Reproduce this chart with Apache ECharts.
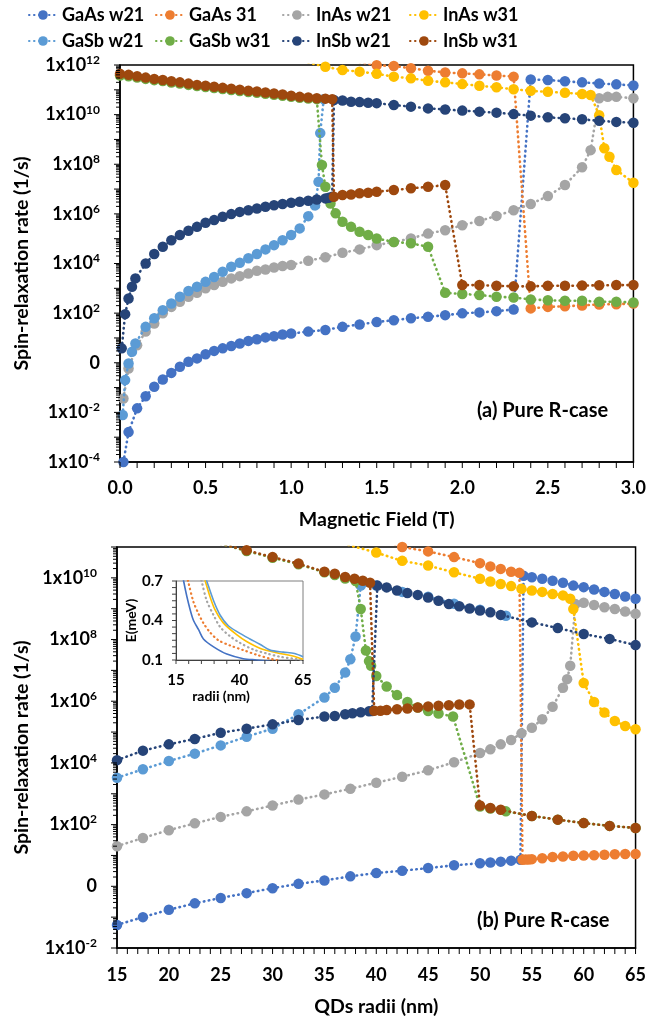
<!DOCTYPE html>
<html>
<head>
<meta charset="utf-8">
<script src="https://cdn.jsdelivr.net/npm/echarts@6/dist/echarts.min.js"></script>
<style>
  html, body { margin: 0; padding: 0; background: #fff; }
  #chart { width: 649px; height: 1026px; }
</style>
</head>
<body>
<div id="chart"></div>
<script>
// Series names, in legend order
const names = ['GaAs w21', 'GaAs 31', 'InAs w21', 'InAs w31', 'GaSb w21', 'GaSb w31', 'InSb w21', 'InSb w31'];
const colors = ['#4472C4', '#ED7D31', '#A5A5A5', '#FFC000', '#5B9BD5', '#70AD47', '#264478', '#9E480E'];

// ---- (a) spin-relaxation rate (1/s) vs magnetic field (T) ----
const fieldGaAsW21 = [[0.02,1.0e-4],[0.05,1.6e-3],[0.1,1.45e-2],[0.15,4.5e-2],[0.2,1.07e-1],[0.25,2.1e-1],[0.3,3.9e-1],[0.35,6.9e-1],[0.4,1.1],[0.45,1.5],[0.5,2.2],[0.55,3.0],[0.6,3.8],[0.65,4.7],[0.7,6.0],[0.75,7.6],[0.8,8.9],[0.85,10.5],[0.9,11.7],[0.95,13.8],[1.0,15],[1.1,18],[1.2,21],[1.3,28],[1.4,35],[1.5,44],[1.6,52],[1.7,62],[1.8,71],[1.9,83],[2.0,98],[2.1,107],[2.2,120],[2.3,141],[2.4,2.6e11],[2.5,2.5e11],[2.6,2.2e11],[2.7,2.0e11],[2.8,1.8e11],[2.9,1.66e11],[3.0,1.5e11]];
const fieldGaAs31 = [[1.4,1.3e12],[1.5,9.8e11],[1.6,9.1e11],[1.7,7.4e11],[1.8,5.9e11],[1.9,5.0e11],[2.0,4.6e11],[2.1,4.2e11],[2.2,3.8e11],[2.3,3.4e11],[2.4,155],[2.5,178],[2.6,190],[2.7,204],[2.8,224],[2.9,229],[3.0,245]];
const fieldInAsW21 = [[0.02,3.6e-2],[0.05,5.9e-1],[0.1,5.1],[0.15,18],[0.2,38],[0.25,98],[0.3,178],[0.35,288],[0.4,457],[0.45,661],[0.5,1000],[0.55,1350],[0.6,1820],[0.65,2510],[0.7,3090],[0.75,3980],[0.8,5130],[0.85,5750],[0.9,6920],[0.95,7940],[1.0,8710],[1.1,1.29e4],[1.2,1.78e4],[1.3,2.7e4],[1.4,3.7e4],[1.5,5.5e4],[1.6,7.4e4],[1.7,1.02e5],[1.8,1.6e5],[1.9,2.2e5],[2.0,3.5e5],[2.1,5.2e5],[2.2,8.3e5],[2.3,1.4e6],[2.4,2.5e6],[2.5,5.2e6],[2.6,1.45e7],[2.7,7.6e7],[2.75,3.7e8],[2.8,4.6e10],[2.85,5.2e10],[2.9,5.2e10],[3.0,4.6e10]];
const fieldInAsW31 = [[1.1,1.26e12],[1.2,8.5e11],[1.3,6.3e11],[1.4,5.4e11],[1.5,4.4e11],[1.6,3.4e11],[1.7,2.9e11],[1.8,2.3e11],[1.9,2.0e11],[2.0,1.7e11],[2.1,1.45e11],[2.2,1.26e11],[2.3,1.05e11],[2.4,9.1e10],[2.5,8.3e10],[2.6,7.6e10],[2.7,6.8e10],[2.75,6.2e10],[2.8,9.5e9],[2.83,4.4e8],[2.86,2.0e8],[2.9,5.9e7],[3.0,1.8e7]];
const fieldGaSbW21 = [[0.016,7.8e-3],[0.03,2.0e-1],[0.05,0.93],[0.07,2.75],[0.09,6.0],[0.15,28],[0.2,62],[0.25,132],[0.3,245],[0.35,457],[0.4,776],[0.45,1150],[0.5,1820],[0.55,2880],[0.6,4680],[0.65,7410],[0.7,1.07e4],[0.75,1.62e4],[0.8,2.4e4],[0.85,3.7e4],[0.9,5.5e4],[0.95,8.7e4],[1.0,1.41e5],[1.05,2.6e5],[1.1,8.1e5],[1.14,2.2e6],[1.16,1.95e7],[1.17,1.8e9],[1.19,4.2e10]];
const fieldGaSbW31 = [[0,3.8e11],[0.05,3.5e11],[0.1,3.1e11],[0.15,2.75e11],[0.2,2.45e11],[0.25,2.24e11],[0.3,1.95e11],[0.35,1.78e11],[0.4,1.58e11],[0.45,1.41e11],[0.5,1.29e11],[0.55,1.17e11],[0.6,1.07e11],[0.65,9.8e10],[0.7,8.9e10],[0.75,8.1e10],[0.8,7.6e10],[0.85,6.9e10],[0.9,6.3e10],[0.95,5.8e10],[1.0,5.2e10],[1.05,4.8e10],[1.1,4.5e10],[1.15,4.2e10],[1.18,9.3e7],[1.2,1.23e7],[1.23,2.6e6],[1.26,1.05e6],[1.3,4.8e5],[1.35,3.0e5],[1.4,1.9e5],[1.45,1.41e5],[1.5,1.02e5],[1.6,7.4e4],[1.7,6.5e4],[1.8,4.7e4],[1.9,660],[2.0,590],[2.1,540],[2.2,457],[2.3,427],[2.4,355],[2.5,331],[2.6,316],[2.7,316],[2.8,288],[2.9,288],[3.0,269]];
const fieldInSbW21 = [[0.01,3.8],[0.03,91],[0.05,389],[0.07,1150],[0.09,2510],[0.15,1.0e4],[0.2,2.4e4],[0.25,4.7e4],[0.3,8.7e4],[0.35,1.41e5],[0.4,2.1e5],[0.45,3.0e5],[0.5,4.4e5],[0.55,5.6e5],[0.6,7.6e5],[0.65,9.8e5],[0.7,1.2e6],[0.75,1.41e6],[0.8,1.66e6],[0.85,1.95e6],[0.9,2.24e6],[0.95,2.5e6],[1.0,2.8e6],[1.05,3.1e6],[1.1,3.4e6],[1.15,3.8e6],[1.2,4.2e6],[1.22,4.5e6],[1.24,4.9e6],[1.25,3.9e10],[1.3,3.7e10],[1.35,3.3e10],[1.4,3.2e10],[1.45,3.0e10],[1.5,2.9e10],[1.6,2.45e10],[1.7,2.1e10],[1.8,1.78e10],[1.9,1.62e10],[2.0,1.45e10],[2.1,1.32e10],[2.2,1.2e10],[2.3,1.05e10],[2.4,9.1e9],[2.5,7.8e9],[2.6,7.1e9],[2.7,6.5e9],[2.8,5.6e9],[2.9,5.1e9],[3.0,4.7e9]];
const fieldInSbW31 = [[0,4.4e11],[0.05,4.0e11],[0.1,3.5e11],[0.15,3.1e11],[0.2,2.75e11],[0.25,2.5e11],[0.3,2.2e11],[0.35,2.0e11],[0.4,1.78e11],[0.45,1.58e11],[0.5,1.45e11],[0.55,1.32e11],[0.6,1.2e11],[0.65,1.1e11],[0.7,1.0e11],[0.75,9.1e10],[0.8,8.5e10],[0.85,7.8e10],[0.9,7.1e10],[0.95,6.5e10],[1.0,5.8e10],[1.05,5.2e10],[1.1,4.9e10],[1.15,4.6e10],[1.2,4.4e10],[1.24,4.2e10],[1.25,4.9e6],[1.3,5.8e6],[1.35,6.0e6],[1.4,6.8e6],[1.45,7.1e6],[1.5,7.8e6],[1.6,9.1e6],[1.7,1.07e7],[1.8,1.23e7],[1.9,1.45e7],[2.0,1350],[2.1,1350],[2.2,1260],[2.3,1200],[2.4,1200],[2.5,1260],[2.6,1260],[2.7,1290],[2.8,1320],[2.9,1350],[3.0,1350]];

// ---- (b) spin-relaxation rate (1/s) vs QD radius (nm) ----
const radiiGaAsW21 = [[15,5.6e-2],[17.5,0.1],[20,0.174],[22.5,0.28],[25,0.42],[27.5,0.6],[30,0.87],[32.5,1.2],[35,1.55],[37.5,2.1],[40,2.7],[42.5,3.2],[45,3.9],[47.5,4.8],[50,5.6],[51,5.9],[52,6.3],[53,6.8],[53.9,7.2],[54.2,1.17e10],[55,1.05e10],[56,9.3e9],[57,8.1e9],[58,6.9e9],[59,5.6e9],[60,5.0e9],[61,4.2e9],[62,3.5e9],[63,3.0e9],[64,2.5e9],[65,2.1e9]];
const radiiGaAs31 = [[40,2.0e11],[42.5,1.0e11],[45,7.2e10],[47.5,4.7e10],[50,3.0e10],[51,2.35e10],[52,1.95e10],[53,1.58e10],[53.8,1.45e10],[54.1,7.2],[54.4,7.4],[54.7,7.4],[55,7.6],[56,8.1],[57,8.9],[58,9.3],[59,9.8],[60,10],[61,10.2],[62,10.5],[63,11],[64,11.2],[65,11.2]];
const radiiInAsW21 = [[15,20],[17.5,37],[20,66],[22.5,110],[25,178],[27.5,269],[30,417],[32.5,646],[35,955],[37.5,1450],[40,2290],[42.5,3550],[45,5750],[47.5,1.05e4],[50,2.1e4],[51,2.75e4],[52,4.0e4],[53,5.5e4],[54,9.1e4],[55,1.38e5],[56,2.6e5],[57,6.6e5],[58,2.75e6],[58.4,5.2e6],[58.7,1.41e7],[59.2,1.41e9],[60,1.55e9],[61,1.32e9],[62,1.12e9],[63,9.8e8],[64,8.1e8],[65,6.8e8]];
const radiiInAsW31 = [[35,2.0e11],[37.5,1.12e11],[40,6.6e10],[42.5,3.55e10],[45,2.5e10],[47.5,1.51e10],[50,9.3e9],[51,7.6e9],[52,6.3e9],[53,5.4e9],[54,4.4e9],[55,3.9e9],[56,3.5e9],[57,3.0e9],[58,2.7e9],[58.7,2.1e9],[59,9.8e8],[60,3.9e6],[61,9.5e5],[62,4.3e5],[63,2.3e5],[64,1.58e5],[65,1.23e5]];
const radiiGaSbW21 = [[15,3300],[17.5,6200],[20,1.15e4],[22.5,2.0e4],[25,3.7e4],[27.5,7.1e4],[30,1.29e5],[32.5,3.8e5],[35,1.32e6],[36,2.75e6],[37,8.5e6],[37.5,2.3e7],[38,1.26e8],[38.5,5.6e9],[40,5.6e9],[42.5,3.5e9],[45,2.45e9],[47.5,1.45e9],[50,9.3e8],[52.5,5.9e8]];
const radiiGaSbW31 = [[25,1.26e11],[27.5,7.4e10],[30,4.5e10],[32.5,2.75e10],[35,1.51e10],[36,1.23e10],[37,9.5e9],[38,7.9e9],[38.5,9.8e8],[39,4.4e7],[39.3,2.0e7],[39.5,1.41e7],[40,6.6e6],[41,3.0e6],[42,1.58e6],[43,9.5e5],[44,6.3e5],[45,4.8e5],[46,4.0e5],[47.4,3.2e5],[50,389],[51,331],[52.5,269],[55,190],[57.5,145],[60,112],[62.5,91],[65,78]];
const radiiInSbW21 = [[15,1.23e4],[17.5,2.5e4],[20,4.0e4],[22.5,6.0e4],[25,9.5e4],[27.5,1.29e5],[30,1.78e5],[32.5,2.45e5],[35,3.2e5],[36,3.3e5],[37,3.8e5],[37.7,4.1e5],[38.5,4.4e5],[39.3,4.7e5],[39.6,4.8e5],[40.1,5.6e9],[41,4.9e9],[42,3.9e9],[43,3.2e9],[44,2.8e9],[45,2.3e9],[46,1.82e9],[47,1.41e9],[48,1.2e9],[49,1.02e9],[50,8.7e8],[51,7.6e8],[52,6.3e8],[55,3.6e8],[57.5,2.35e8],[60,1.51e8],[62.5,1.05e8],[65,6.6e7]];
const radiiInSbW31 = [[25,1.26e11],[27.5,7.8e10],[30,4.7e10],[32.5,2.9e10],[35,1.58e10],[36,1.35e10],[37,1.07e10],[37.9,9.3e9],[38.7,8.1e9],[39.4,6.9e9],[39.8,4.9e5],[40.4,4.9e5],[41,5.2e5],[42,5.5e5],[43,5.8e5],[44,6.3e5],[45,6.8e5],[46,7.1e5],[47,7.4e5],[48,7.8e5],[49,7.9e5],[50,417],[51,347],[52,302],[55,190],[57.5,145],[60,112],[62.5,91],[65,78]];

// ---- inset: level energy E (meV) vs radius (nm) ----
const energyGaAsW21 = [[16.5,0.86],[18,0.70],[19.3,0.58],[20.6,0.48],[21.9,0.40],[23.9,0.33],[25.8,0.26],[29.8,0.20],[35,0.145],[41.5,0.11],[46.7,0.10],[52,0.09]];
const energyGaAs31 = [[19.3,0.74],[20,0.68],[21.9,0.54],[23.9,0.45],[25.8,0.38],[28.4,0.31],[31.7,0.25],[36.3,0.21],[41.5,0.175],[46.7,0.14],[52,0.11],[55.9,0.095]];
const energyInAsW21 = [[24.5,0.74],[25.2,0.69],[27.1,0.55],[29.8,0.44],[32.4,0.35],[36.3,0.28],[40.2,0.23],[45.4,0.18],[50.6,0.15],[55.9,0.125],[61.1,0.11],[65,0.10]];
const energyInAsW31 = [[25.8,0.74],[26.5,0.70],[28.4,0.58],[30.4,0.48],[33.7,0.38],[39,0.29],[42.8,0.24],[48,0.19],[54.6,0.155],[61,0.13],[65,0.105]];
const energyGaSbW21 = [[26.4,0.74],[27.1,0.70],[29.8,0.55],[32.4,0.44],[35.6,0.36],[39.5,0.31],[44.1,0.26],[48,0.22],[52,0.175],[57.2,0.16],[61.7,0.15],[65,0.125]];

// Decade ranges (powers of ten) of the two rate axes
const fieldTickExps = [-4, 12];
const radiiTickExps = [-2, 11];

const FONT = 'Lato';
const INK = '#000';

function decades(lo, hi) { const out = []; for (let e = lo; e <= hi; e++) out.push(Math.pow(10, e)); return out; }
function evenDecades(lo, hi) { return decades(lo, hi).filter(v => Math.round(Math.log10(v)) % 2 === 0); }
function powLabel(v) {
  const e = Math.round(Math.log10(v));
  if (e % 2 !== 0) return '';
  if (e === 0) return '{b|0}';
  return '{b|1x10}{s|' + e + '}';
}
const powRich = {
  b: { fontFamily: FONT, fontWeight: 'bold', fontSize: 18, color: INK },
  s: { fontFamily: FONT, fontWeight: 'bold', fontSize: 12, color: INK, verticalAlign: 'top', padding: [0, 0, 10, 0] }
};

const boldText = { fontFamily: FONT, fontWeight: 'bold', fontSize: 18, color: INK };
const titleText = { fontFamily: FONT, fontWeight: 'bold', fontSize: 19.5, color: INK };

// ---- tick marks: [position, length] along each axis ----
function logTickMarks(lo, hi) {
  const out = [];
  for (let e = lo; e <= hi; e++) {
    out.push([Math.pow(10, e), 6]);
    if (e < hi) for (let m = 2; m <= 9; m++) out.push([m * Math.pow(10, e), 4]);
  }
  return out;
}
function linearTickMarks(start, count, step, len) {
  const out = [];
  for (let k = 0; k <= count; k++) out.push([Math.round((start + k * step) * 1000) / 1000, len]);
  return out;
}
// Short outward marks drawn through the axis scales
function yTickSeries(xi, yi, xAt, marks, color) {
  return {
    type: 'custom', xAxisIndex: xi, yAxisIndex: yi, silent: true, clip: false, z: 30,
    data: marks.map(m => [xAt, m[0], m[1]]),
    encode: { x: 0, y: 1 },
    renderItem: (params, api) => {
      const p = api.coord([api.value(0), api.value(1)]);
      const len = api.value(2);
      return { type: 'line', shape: { x1: p[0] - len, y1: p[1], x2: p[0], y2: p[1] }, style: { stroke: color, lineWidth: 1 } };
    }
  };
}
function xTickSeries(xi, yi, yAt, marks, color) {
  return {
    type: 'custom', xAxisIndex: xi, yAxisIndex: yi, silent: true, clip: false, z: 30,
    data: marks.map(m => [m[0], yAt, m[1]]),
    encode: { x: 0, y: 1 },
    renderItem: (params, api) => {
      const p = api.coord([api.value(0), api.value(1)]);
      const len = api.value(2);
      return { type: 'line', shape: { x1: p[0], y1: p[1], x2: p[0], y2: p[1] + len }, style: { stroke: color, lineWidth: 1 } };
    }
  };
}

function logAxis(grid, exps, name, gap) {
  return {
    type: 'log', logBase: 10, gridIndex: grid,
    min: Math.pow(10, exps[0]), max: Math.pow(10, exps[1]), interval: 1,
    name: name, nameLocation: 'middle', nameGap: gap, nameTextStyle: titleText,
    axisLine: { show: true, lineStyle: { color: INK, width: 1.5 } },
    axisTick: { show: false },
    axisLabel: { margin: 20, formatter: powLabel, rich: powRich, customValues: evenDecades(exps[0], exps[1]) },
    splitLine: { show: false }
  };
}

function rateSeries(i, data, xi, yi) {
  return {
    type: 'line', name: names[i], data: data,
    xAxisIndex: xi, yAxisIndex: yi,
    symbol: 'circle', symbolSize: 10.5,
    color: colors[i],
    itemStyle: { color: colors[i] },
    lineStyle: { color: colors[i], width: 2.6, type: [0.5, 4.5], cap: 'round' },
    emphasis: { disabled: true },
    clip: true, z: 2 + i
  };
}
function energySeries(i, data, dotted) {
  return {
    type: 'line', name: names[i], data: data,
    xAxisIndex: 2, yAxisIndex: 2,
    symbol: 'none', smooth: 0.3,
    lineStyle: dotted
      ? { color: colors[i], width: 2.2, type: [0.5, 4], cap: 'round' }
      : { color: colors[i], width: 1.6 },
    emphasis: { disabled: true },
    clip: true, z: 20
  };
}

const fieldSets = [fieldGaAsW21, fieldGaAs31, fieldInAsW21, fieldInAsW31, fieldGaSbW21, fieldGaSbW31, fieldInSbW21, fieldInSbW31];
const radiiSets = [radiiGaAsW21, radiiGaAs31, radiiInAsW21, radiiInAsW31, radiiGaSbW21, radiiGaSbW31, radiiInSbW21, radiiInSbW31];

const series = [];
fieldSets.forEach((d, i) => series.push(rateSeries(i, d, 0, 0)));
radiiSets.forEach((d, i) => series.push(rateSeries(i, d, 1, 1)));
series.push(energySeries(0, energyGaAsW21, false));
series.push(energySeries(1, energyGaAs31, true));
series.push(energySeries(2, energyInAsW21, true));
series.push(energySeries(3, energyInAsW31, false));
series.push(energySeries(4, energyGaSbW21, false));

// axis tick marks
series.push(yTickSeries(0, 0, 0, logTickMarks(fieldTickExps[0], fieldTickExps[1]), INK));
series.push(xTickSeries(0, 0, Math.pow(10, fieldTickExps[0]), linearTickMarks(0, 30, 0.1, 6), INK));
series.push(yTickSeries(1, 1, 15, logTickMarks(radiiTickExps[0], radiiTickExps[1]), INK));
series.push(xTickSeries(1, 1, Math.pow(10, radiiTickExps[0]), linearTickMarks(15, 50, 1, 6), INK));
series.push(yTickSeries(2, 2, 15, linearTickMarks(0.1, 12, 0.05, 4), '#404040'));
series.push(xTickSeries(2, 2, 0.1, linearTickMarks(15, 10, 5, 4), '#404040'));

// Legend: two rows of four entries
const legendCols = [28, 155, 282, 409];
const legendRows = [6, 32];
const legends = names.map((n, i) => ({
  data: [n],
  left: legendCols[i % 4], top: legendRows[Math.floor(i / 4)],
  padding: 0, itemWidth: 28, itemHeight: 12, itemGap: 0,
  textStyle: boldText,
  selectedMode: false
}));

const option = {
  animation: false,
  backgroundColor: '#fff',
  textStyle: { fontFamily: FONT },
  legend: legends,
  grid: [
    { left: 120, top: 65, width: 517, height: 397, show: true, borderColor: INK, borderWidth: 1.5, backgroundColor: 'transparent' },
    { left: 117, top: 547, width: 520, height: 401, show: true, borderColor: INK, borderWidth: 1.5, backgroundColor: 'transparent' },
    { left: 176, top: 581, width: 127, height: 79, show: true, borderColor: '#7f7f7f', borderWidth: 1, backgroundColor: '#fff', z: 10 }
  ],
  xAxis: [
    {
      type: 'value', gridIndex: 0, min: 0, max: 3, interval: 0.5,
      name: 'Magnetic Field (T)', nameLocation: 'middle', nameGap: 48, nameTextStyle: titleText,
      axisLine: { show: true, lineStyle: { color: INK, width: 1.5 } },
      axisTick: { show: false },
      axisLabel: Object.assign({ margin: 17, formatter: v => v.toFixed(1) }, boldText),
      splitLine: { show: false }
    },
    {
      type: 'value', gridIndex: 1, min: 15, max: 65, interval: 5,
      name: 'QDs radii (nm)', nameLocation: 'middle', nameGap: 49, nameTextStyle: titleText,
      axisLine: { show: true, lineStyle: { color: INK, width: 1.5 } },
      axisTick: { show: false },
      axisLabel: Object.assign({ margin: 18 }, boldText),
      splitLine: { show: false }
    },
    {
      type: 'value', gridIndex: 2, min: 15, max: 65, interval: 25,
      name: 'radii (nm)', nameLocation: 'middle', nameGap: 29,
      nameTextStyle: { fontFamily: FONT, fontWeight: 'bold', fontSize: 14, color: INK, padding: [0, 37, 0, 0] },
      axisLine: { show: true, lineStyle: { color: '#404040', width: 1 } },
      axisTick: { show: false },
      axisLabel: { margin: 13, fontFamily: FONT, fontWeight: 'bold', fontSize: 15, color: INK },
      splitLine: { show: false }, z: 12
    }
  ],
  yAxis: [
    logAxis(0, fieldTickExps, 'Spin-relaxation rate (1/s)', 88),
    logAxis(1, radiiTickExps, 'Spin-relaxation rate (1/s)', 85),
    {
      type: 'value', gridIndex: 2, min: 0.1, max: 0.7, interval: 0.3,
      name: 'E(meV)', nameLocation: 'middle', nameGap: 36,
      nameTextStyle: { fontFamily: FONT, fontWeight: 'bold', fontSize: 14, color: INK },
      axisLine: { show: true, lineStyle: { color: '#404040', width: 1 } },
      axisTick: { show: false },
      axisLabel: { margin: 13, fontFamily: FONT, fontWeight: 'bold', fontSize: 15, color: INK, formatter: v => v.toFixed(1) },
      splitLine: { show: false }, z: 12
    }
  ],
  graphic: [
    { type: 'text', left: 477, top: 401, style: { text: '(a) Pure R-case', font: 'bold 20px Lato', fill: INK } },
    { type: 'text', left: 477, top: 911, style: { text: '(b) Pure R-case', font: 'bold 20px Lato', fill: INK } }
  ],
  series: series
};

const chart = echarts.init(document.getElementById('chart'), null, { renderer: 'canvas' });
chart.setOption(option);
</script>
</body>
</html>
